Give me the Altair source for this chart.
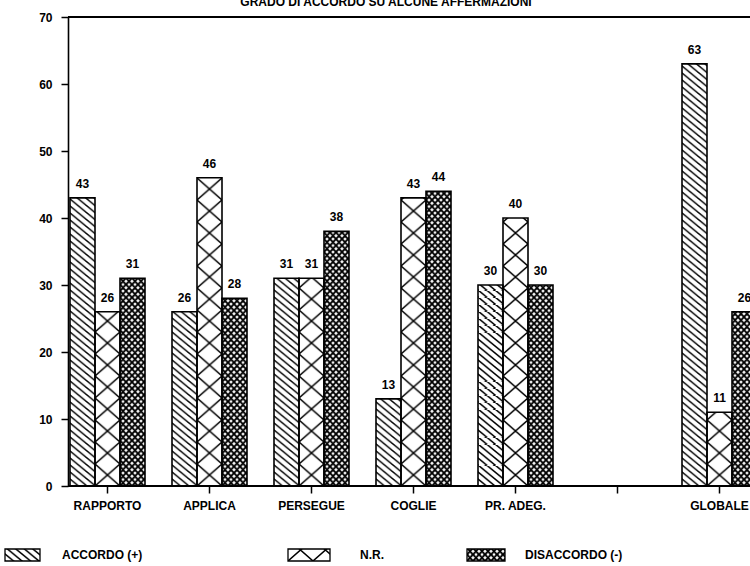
import altair as alt
import pandas as pd
from urllib.parse import quote

# ---------------- data ----------------
categories = ["RAPPORTO", "APPLICA", "PERSEGUE", "COGLIE", "PR. ADEG.", " ", "GLOBALE"]
series = ["ACCORDO (+)", "N.R.", "DISACCORDO (-)"]
accordo = [43, 26, 31, 13, 30, None, 63]
non_risponde = [26, 46, 31, 43, 40, None, 11]
disaccordo = [31, 28, 38, 44, 30, None, 26]
y_ticks = [0, 10, 20, 30, 40, 50, 60, 70]
title_text = "GRADO DI ACCORDO SU ALCUNE AFFERMAZIONI"

rows = []
for i, cat in enumerate(categories):
    for s, vals in zip(series, [accordo, non_risponde, disaccordo]):
        if vals[i] is not None:
            rows.append({"category": cat, "series": s, "value": vals[i]})
df = pd.DataFrame(rows)

# ---------------- styles ----------------
FONT = "Liberation Sans"
FS = 12
FW = "bold"


def back(w, h):
    return f"M{-w},{-h} L{2*w},{2*h} M0,{-h} L{2*w},{h} M{-w},0 L{w},{2*h}"


def fwd(w, h):
    return f"M{2*w},{-h} L{-w},{2*h} M{w},{-h} L{-w},{h} M{2*w},0 L0,{2*h}"


def pattern_uri(w, h, path, sw):
    svg = (
        "<svg xmlns='http://www.w3.org/2000/svg'>"
        f"<defs><pattern id='p' patternUnits='userSpaceOnUse' width='{w}' height='{h}'>"
        f"<path d='{path}' stroke='black' stroke-width='{sw}' fill='none'/></pattern></defs>"
        "<rect width='100%' height='100%' fill='white'/>"
        "<svg y='100%' overflow='visible'>"
        "<rect y='-4000' width='4000' height='4000' fill='url(#p)'/></svg></svg>"
    )
    return "data:image/svg+xml," + quote(svg)


patterns = {
    series[0]: pattern_uri(8.5, 7, back(8.5, 7), 1.5),
    series[1]: pattern_uri(25, 22, back(25, 22) + " " + fwd(25, 22), 1.5),
    series[2]: pattern_uri(6, 6.5, back(6, 6.5) + " " + fwd(6, 6.5), 1.9),
}

# layout of the hand-made legend row (page pixels, plot origin at 68,17)
legend_swatch_x = [5, 288, 467]
legend_swatch_w = [35, 42, 38]
legend_text_x = [62, 360, 525]
legend_y = 555

PL, PT = 68, 17
W, H = 682, 469

x_scale = alt.Scale(domain=categories, range=[2, 689], paddingInner=0.2647, paddingOuter=0)
x_enc = alt.X(
    "category:N",
    scale=x_scale,
    axis=alt.Axis(
        title=None, labelAngle=0, domain=False, ticks=True, tickSize=7,
        tickWidth=1.5, tickColor="black", labelColor="black", labelFont=FONT,
        labelFontSize=FS, labelFontWeight=FW, labelPadding=7,
    ),
)
xoff = alt.XOffset("series:N", scale=alt.Scale(domain=series, paddingInner=0, paddingOuter=0))
y_scale = alt.Scale(domain=[0, 70], nice=False)
y_enc = alt.Y(
    "value:Q",
    scale=y_scale,
    axis=alt.Axis(
        title=None, values=y_ticks, grid=False, domainColor="black", domainWidth=1.6,
        tickColor="black", tickWidth=1.5, tickSize=7, labelColor="black",
        labelFont=FONT, labelFontSize=FS, labelFontWeight=FW, labelPadding=9,
    ),
)

base = alt.Chart(df)

layers = []
for s in series:
    layers.append(
        base.transform_filter(alt.datum.series == s)
        .mark_image(aspect=False)
        .encode(x=x_enc, xOffset=xoff, y=y_enc, y2=alt.datum(0), url=alt.value(patterns[s]))
    )

outline = base.mark_bar(fillOpacity=0, stroke="black", strokeWidth=1.6).encode(
    x=x_enc, xOffset=xoff, y=y_enc, y2=alt.datum(0)
)

labels = base.mark_text(
    dy=-10, baseline="alphabetic", font=FONT, fontSize=FS, fontWeight=FW, color="black"
).encode(x=x_enc, xOffset=xoff, y=y_enc, text="value:Q")

top_rule = alt.Chart(df).mark_rule(color="black", strokeWidth=2).encode(y=alt.datum(70))
bottom_rule = alt.Chart(df).mark_rule(color="black", strokeWidth=2).encode(y=alt.datum(0))

# title (its upper half is cut by the page edge, as in the reference)
title_layer = alt.Chart(pd.DataFrame({"t": [title_text]})).mark_text(
    align="center", baseline="alphabetic", font=FONT, fontSize=FS, fontWeight=FW, color="black"
).encode(x=alt.value(386 - PL), y=alt.value(6 - PT), text="t:N")

legend_layers = []
for i, s in enumerate(series):
    x0 = legend_swatch_x[i] - PL
    x1 = x0 + legend_swatch_w[i]
    y0 = legend_y - 6 - PT
    y1 = legend_y + 6 - PT
    legend_layers.append(
        alt.Chart(pd.DataFrame({"series": [s]})).mark_image(aspect=False).encode(
            x=alt.value(x0), x2=alt.value(x1), y=alt.value(y0), y2=alt.value(y1),
            url=alt.value(patterns[s]),
        )
    )
    legend_layers.append(
        alt.Chart(pd.DataFrame({"series": [s]})).mark_rect(
            fillOpacity=0, stroke="black", strokeWidth=1.3
        ).encode(x=alt.value(x0), x2=alt.value(x1), y=alt.value(y0), y2=alt.value(y1))
    )
    legend_layers.append(
        alt.Chart(pd.DataFrame({"series": [s]})).mark_text(
            align="left", baseline="middle", font=FONT, fontSize=FS, fontWeight=FW, color="black"
        ).encode(
            x=alt.value(legend_text_x[i] - PL), y=alt.value(legend_y - PT), text="series:N"
        )
    )

chart = (
    alt.layer(*layers, outline, labels, top_rule, bottom_rule, title_layer, *legend_layers)
    .properties(
        width=W,
        height=H,
        autosize=alt.AutoSizeParams(type="none"),
        padding={"left": PL, "top": PT, "right": 750 - PL - W, "bottom": 566 - PT - H},
        background="white",
    )
    .configure_view(stroke=None)
)

chart.save("out.html", embed_options={"renderer": "svg", "actions": False})
